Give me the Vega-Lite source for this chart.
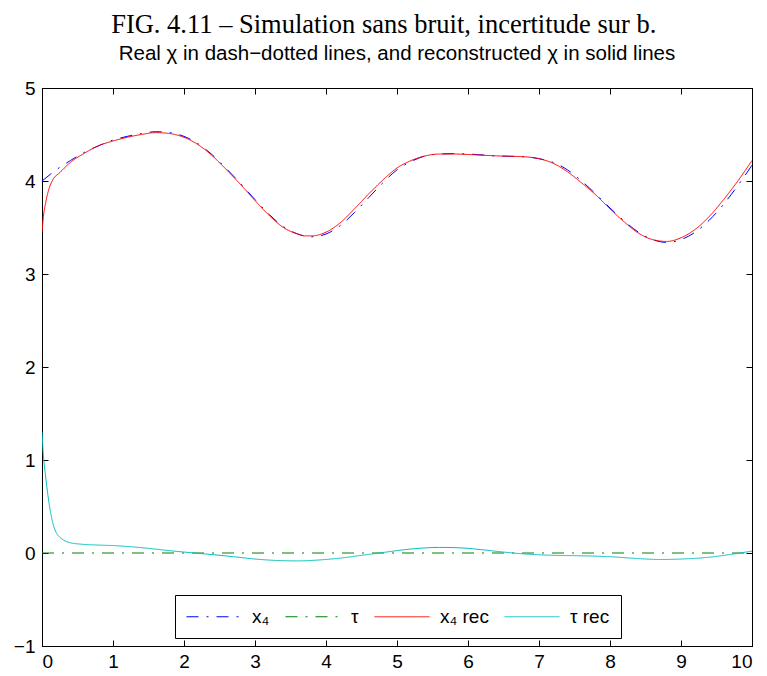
{
  "$schema": "https://vega.github.io/schema/vega-lite/v6.json",
  "autosize": {"type": "none"},
  "width": 710,
  "height": 558,
  "padding": {"left": 42, "top": 88, "right": 15, "bottom": 30},
  "background": "white",
  "config": {
    "view": {"stroke": "black", "strokeWidth": 1},
    "axis": {
      "labelFont": "Liberation Sans",
      "labelFontSize": 19,
      "labelColor": "black",
      "tickColor": "black",
      "domainColor": "black",
      "grid": false,
      "title": null
    }
  },
  "title": {
    "text": "FIG. 4.11 – Simulation sans bruit, incertitude sur b.\u00a0\u00a0\u00a0\u00a0\u200b",
    "subtitle": "Real χ in dash−dotted lines, and reconstructed χ in solid lines",
    "font": "Liberation Serif",
    "fontSize": 26.5,
    "fontWeight": "normal",
    "color": "black",
    "subtitleFont": "Liberation Sans",
    "subtitleFontSize": 20.5,
    "subtitleColor": "black",
    "anchor": "middle",
    "offset": 15,
    "subtitlePadding": 5
  },
  "data": {
    "values": [
      {"t": 0, "v": 4.00, "s": "x₄"},
      {"t": 0.2, "v": 4.12, "s": "x₄"},
      {"t": 0.4, "v": 4.22, "s": "x₄"},
      {"t": 0.6, "v": 4.31, "s": "x₄"},
      {"t": 0.8, "v": 4.38, "s": "x₄"},
      {"t": 1.0, "v": 4.44, "s": "x₄"},
      {"t": 1.2, "v": 4.48, "s": "x₄"},
      {"t": 1.4, "v": 4.51, "s": "x₄"},
      {"t": 1.6, "v": 4.53, "s": "x₄"},
      {"t": 1.8, "v": 4.52, "s": "x₄"},
      {"t": 2.0, "v": 4.48, "s": "x₄"},
      {"t": 2.2, "v": 4.40, "s": "x₄"},
      {"t": 2.4, "v": 4.28, "s": "x₄"},
      {"t": 2.6, "v": 4.13, "s": "x₄"},
      {"t": 2.8, "v": 3.97, "s": "x₄"},
      {"t": 3.0, "v": 3.80, "s": "x₄"},
      {"t": 3.2, "v": 3.64, "s": "x₄"},
      {"t": 3.4, "v": 3.51, "s": "x₄"},
      {"t": 3.6, "v": 3.43, "s": "x₄"},
      {"t": 3.8, "v": 3.40, "s": "x₄"},
      {"t": 4.0, "v": 3.43, "s": "x₄"},
      {"t": 4.2, "v": 3.52, "s": "x₄"},
      {"t": 4.4, "v": 3.66, "s": "x₄"},
      {"t": 4.6, "v": 3.82, "s": "x₄"},
      {"t": 4.8, "v": 3.98, "s": "x₄"},
      {"t": 5.0, "v": 4.12, "s": "x₄"},
      {"t": 5.2, "v": 4.21, "s": "x₄"},
      {"t": 5.4, "v": 4.27, "s": "x₄"},
      {"t": 5.6, "v": 4.29, "s": "x₄"},
      {"t": 5.8, "v": 4.295, "s": "x₄"},
      {"t": 6.0, "v": 4.29, "s": "x₄"},
      {"t": 6.4, "v": 4.27, "s": "x₄"},
      {"t": 6.8, "v": 4.26, "s": "x₄"},
      {"t": 7.0, "v": 4.24, "s": "x₄"},
      {"t": 7.2, "v": 4.20, "s": "x₄"},
      {"t": 7.4, "v": 4.12, "s": "x₄"},
      {"t": 7.6, "v": 4.00, "s": "x₄"},
      {"t": 7.8, "v": 3.86, "s": "x₄"},
      {"t": 8.0, "v": 3.71, "s": "x₄"},
      {"t": 8.2, "v": 3.57, "s": "x₄"},
      {"t": 8.4, "v": 3.45, "s": "x₄"},
      {"t": 8.6, "v": 3.37, "s": "x₄"},
      {"t": 8.8, "v": 3.34, "s": "x₄"},
      {"t": 9.0, "v": 3.37, "s": "x₄"},
      {"t": 9.2, "v": 3.45, "s": "x₄"},
      {"t": 9.4, "v": 3.58, "s": "x₄"},
      {"t": 9.6, "v": 3.75, "s": "x₄"},
      {"t": 9.8, "v": 3.95, "s": "x₄"},
      {"t": 10.0, "v": 4.17, "s": "x₄"},

      {"t": 0, "v": 0, "s": "τ"},
      {"t": 10, "v": 0, "s": "τ"},

      {"t": 0, "v": 3.45, "s": "x₄ rec"},
      {"t": 0.02, "v": 3.62, "s": "x₄ rec"},
      {"t": 0.05, "v": 3.76, "s": "x₄ rec"},
      {"t": 0.1, "v": 3.92, "s": "x₄ rec"},
      {"t": 0.15, "v": 4.01, "s": "x₄ rec"},
      {"t": 0.25, "v": 4.09, "s": "x₄ rec"},
      {"t": 0.4, "v": 4.20, "s": "x₄ rec"},
      {"t": 0.6, "v": 4.30, "s": "x₄ rec"},
      {"t": 0.8, "v": 4.38, "s": "x₄ rec"},
      {"t": 1.0, "v": 4.43, "s": "x₄ rec"},
      {"t": 1.2, "v": 4.47, "s": "x₄ rec"},
      {"t": 1.4, "v": 4.50, "s": "x₄ rec"},
      {"t": 1.6, "v": 4.52, "s": "x₄ rec"},
      {"t": 1.8, "v": 4.51, "s": "x₄ rec"},
      {"t": 2.0, "v": 4.47, "s": "x₄ rec"},
      {"t": 2.2, "v": 4.39, "s": "x₄ rec"},
      {"t": 2.4, "v": 4.27, "s": "x₄ rec"},
      {"t": 2.6, "v": 4.12, "s": "x₄ rec"},
      {"t": 2.8, "v": 3.96, "s": "x₄ rec"},
      {"t": 3.0, "v": 3.79, "s": "x₄ rec"},
      {"t": 3.2, "v": 3.63, "s": "x₄ rec"},
      {"t": 3.4, "v": 3.50, "s": "x₄ rec"},
      {"t": 3.6, "v": 3.43, "s": "x₄ rec"},
      {"t": 3.7, "v": 3.41, "s": "x₄ rec"},
      {"t": 3.8, "v": 3.41, "s": "x₄ rec"},
      {"t": 4.0, "v": 3.45, "s": "x₄ rec"},
      {"t": 4.2, "v": 3.55, "s": "x₄ rec"},
      {"t": 4.4, "v": 3.70, "s": "x₄ rec"},
      {"t": 4.6, "v": 3.86, "s": "x₄ rec"},
      {"t": 4.8, "v": 4.01, "s": "x₄ rec"},
      {"t": 5.0, "v": 4.14, "s": "x₄ rec"},
      {"t": 5.2, "v": 4.22, "s": "x₄ rec"},
      {"t": 5.4, "v": 4.27, "s": "x₄ rec"},
      {"t": 5.6, "v": 4.29, "s": "x₄ rec"},
      {"t": 5.8, "v": 4.29, "s": "x₄ rec"},
      {"t": 6.0, "v": 4.285, "s": "x₄ rec"},
      {"t": 6.4, "v": 4.27, "s": "x₄ rec"},
      {"t": 6.8, "v": 4.26, "s": "x₄ rec"},
      {"t": 7.0, "v": 4.24, "s": "x₄ rec"},
      {"t": 7.2, "v": 4.19, "s": "x₄ rec"},
      {"t": 7.4, "v": 4.10, "s": "x₄ rec"},
      {"t": 7.6, "v": 3.98, "s": "x₄ rec"},
      {"t": 7.8, "v": 3.85, "s": "x₄ rec"},
      {"t": 8.0, "v": 3.70, "s": "x₄ rec"},
      {"t": 8.2, "v": 3.56, "s": "x₄ rec"},
      {"t": 8.4, "v": 3.44, "s": "x₄ rec"},
      {"t": 8.6, "v": 3.37, "s": "x₄ rec"},
      {"t": 8.8, "v": 3.35, "s": "x₄ rec"},
      {"t": 9.0, "v": 3.39, "s": "x₄ rec"},
      {"t": 9.2, "v": 3.48, "s": "x₄ rec"},
      {"t": 9.4, "v": 3.62, "s": "x₄ rec"},
      {"t": 9.6, "v": 3.80, "s": "x₄ rec"},
      {"t": 9.8, "v": 4.00, "s": "x₄ rec"},
      {"t": 10.0, "v": 4.22, "s": "x₄ rec"},

      {"t": 0, "v": 1.30, "s": "τ rec"},
      {"t": 0.02, "v": 1.05, "s": "τ rec"},
      {"t": 0.05, "v": 0.83, "s": "τ rec"},
      {"t": 0.08, "v": 0.64, "s": "τ rec"},
      {"t": 0.12, "v": 0.44, "s": "τ rec"},
      {"t": 0.16, "v": 0.30, "s": "τ rec"},
      {"t": 0.2, "v": 0.22, "s": "τ rec"},
      {"t": 0.25, "v": 0.17, "s": "τ rec"},
      {"t": 0.3, "v": 0.14, "s": "τ rec"},
      {"t": 0.4, "v": 0.11, "s": "τ rec"},
      {"t": 0.55, "v": 0.095, "s": "τ rec"},
      {"t": 0.8, "v": 0.085, "s": "τ rec"},
      {"t": 1.0, "v": 0.08, "s": "τ rec"},
      {"t": 1.2, "v": 0.07, "s": "τ rec"},
      {"t": 1.5, "v": 0.05, "s": "τ rec"},
      {"t": 1.8, "v": 0.025, "s": "τ rec"},
      {"t": 2.0, "v": 0.01, "s": "τ rec"},
      {"t": 2.3, "v": -0.01, "s": "τ rec"},
      {"t": 2.7, "v": -0.04, "s": "τ rec"},
      {"t": 3.0, "v": -0.065, "s": "τ rec"},
      {"t": 3.3, "v": -0.08, "s": "τ rec"},
      {"t": 3.6, "v": -0.085, "s": "τ rec"},
      {"t": 3.9, "v": -0.075, "s": "τ rec"},
      {"t": 4.2, "v": -0.055, "s": "τ rec"},
      {"t": 4.5, "v": -0.025, "s": "τ rec"},
      {"t": 4.8, "v": 0.005, "s": "τ rec"},
      {"t": 5.1, "v": 0.035, "s": "τ rec"},
      {"t": 5.4, "v": 0.055, "s": "τ rec"},
      {"t": 5.6, "v": 0.06, "s": "τ rec"},
      {"t": 5.9, "v": 0.055, "s": "τ rec"},
      {"t": 6.2, "v": 0.035, "s": "τ rec"},
      {"t": 6.5, "v": 0.01, "s": "τ rec"},
      {"t": 6.8, "v": -0.01, "s": "τ rec"},
      {"t": 7.2, "v": -0.025, "s": "τ rec"},
      {"t": 7.6, "v": -0.03, "s": "τ rec"},
      {"t": 8.0, "v": -0.04, "s": "τ rec"},
      {"t": 8.4, "v": -0.06, "s": "τ rec"},
      {"t": 8.7, "v": -0.07, "s": "τ rec"},
      {"t": 9.0, "v": -0.065, "s": "τ rec"},
      {"t": 9.4, "v": -0.045, "s": "τ rec"},
      {"t": 9.7, "v": -0.015, "s": "τ rec"},
      {"t": 10.0, "v": 0.02, "s": "τ rec"}
    ]
  },
  "layer": [
    {
      "mark": {"type": "line", "strokeWidth": 1, "interpolate": "monotone", "clip": true},
      "encoding": {
        "x": {"field": "t", "type": "quantitative", "scale": {"domain": [0, 10], "nice": false},
              "axis": {"orient": "bottom", "values": [0,1,2,3,4,5,6,7,8,9,10], "tickSize": -6, "labelPadding": 12}},
        "y": {"field": "v", "type": "quantitative", "scale": {"domain": [-1, 5], "nice": false, "zero": false},
              "axis": {"orient": "left", "values": [-1,0,1,2,3,4,5], "tickSize": -6, "labelPadding": 13}},
        "color": {"field": "s", "type": "nominal",
                  "scale": {"domain": ["x₄", "τ", "x₄ rec", "τ rec"], "range": ["#0000FF", "#008000", "#FF0000", "#00BFBF"]},
                  "legend": {"title": null, "orient": "none", "legendX": 133, "legendY": 507, "direction": "horizontal", "columns": 4,
                             "symbolType": "M-1,0H4.5", "symbolSize": 400, "symbolStrokeWidth": 1, "strokeColor": "black", "fillColor": "white",
                             "padding": 11, "labelFont": "Liberation Sans", "labelFontSize": 19, "labelColor": "black",
                             "labelOffset": 45, "columnPadding": 13}},
        "strokeDash": {"field": "s", "type": "nominal",
                  "scale": {"domain": ["x₄", "τ", "x₄ rec", "τ rec"], "range": [[12, 8, 2, 8], [12, 8, 2, 8], [1, 0], [1, 0]]},
                  "legend": null},
        "order": {"field": "t", "type": "quantitative"}
      }
    },
    {
      "mark": {"type": "line", "opacity": 0},
      "encoding": {
        "x": {"field": "t", "type": "quantitative", "scale": {"domain": [0, 10], "nice": false},
              "axis": {"orient": "top", "values": [0,1,2,3,4,5,6,7,8,9,10], "tickSize": -6, "labels": false}},
        "y": {"field": "v", "type": "quantitative", "scale": {"domain": [-1, 5], "nice": false, "zero": false},
              "axis": {"orient": "right", "values": [-1,0,1,2,3,4,5], "tickSize": -6, "labels": false}},
        "detail": {"field": "s", "type": "nominal"}
      }
    }
  ],
  "resolve": {"axis": {"x": "independent", "y": "independent"}}
}
